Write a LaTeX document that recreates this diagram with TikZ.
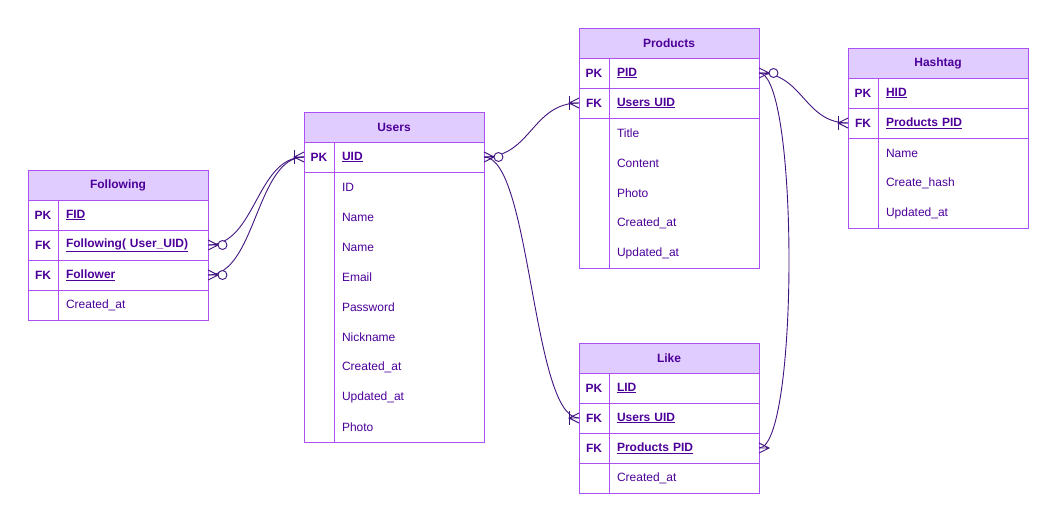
\documentclass[tikz,border=0pt]{standalone}
\usepackage{fontspec}
\setmainfont{Liberation Sans}
\usetikzlibrary{positioning}

\definecolor{erborder}{RGB}{170,80,245}
\definecolor{erhead}{RGB}{225,204,255}
\definecolor{erink}{RGB}{76,0,153}
\definecolor{erline}{RGB}{64,20,128}

\tikzset{
  every node/.style={font=\fontsize{12}{14}\selectfont, text=erink},
  header/.style={draw=erborder, fill=erhead, line width=1pt, outer sep=0pt,
    minimum width=180pt, minimum height=30pt, anchor=north west, font=\fontsize{12}{14}\selectfont\bfseries},
  keycell/.style={draw=erborder, line width=1pt, outer sep=0pt, inner sep=0pt,
    minimum width=30pt, minimum height=30pt, font=\fontsize{12}{14}\selectfont\bfseries},
  fieldcell/.style={draw=erborder, line width=1pt, outer sep=0pt, inner xsep=8pt,
    text width=134pt, align=left, minimum height=30pt},
  plain/.style={draw=none},
  frame/.style={draw=erborder, line width=1pt},
  link/.style={draw=erline, line width=0.9pt},
  crow/.pic={\draw[link] (0,-5) -- (10,0) -- (0,5) (0,0) -- (10,0);},
  zeromany/.pic={\draw[link] (0,-5) -- (10,0) -- (0,5) (0,0) -- (10,0);
    \draw[link, fill=white] (14.5,0) circle (4.5pt);},
  onemany/.pic={\draw[link] (0,-5) -- (10,0) -- (0,5) (0,0) -- (10,0);
    \draw[link] (10,-7) -- (10,7);}
}

% key row: name, row above, key, field
\newcommand{\erow}[4]{%
  \node[keycell, below=0pt of #2k] (#1k) {#3};
  \node[fieldcell, right=0pt of #1k] (#1) {#4};}
% plain row, no lines of its own: name, row above, field
\newcommand{\prow}[3]{%
  \node[keycell, plain, below=0pt of #2k] (#1k) {};
  \node[fieldcell, plain, right=0pt of #1k] (#1) {#3};}

\begin{document}
\begin{tikzpicture}[x=1pt, y=-1pt]
  \useasboundingbox (0,0) rectangle (1058,522);

  % Following
  \node[header] (fh) at (28,170) {Following};
  \node[keycell, anchor=north west] (f1k) at (fh.south west) {PK};
  \node[fieldcell, right=0pt of f1k] (f1) {\textbf{\underline{FID}}};
  \erow{f2}{f1}{FK}{\textbf{\underline{Following( User\_UID)}}}
  \erow{f3}{f2}{FK}{\textbf{\underline{Follower}}}
  \prow{f4}{f3}{Created\_at}
  \draw[frame] (fh.north west) rectangle (f4.south east) (f4k.north east) -- (f4k.south east);

  % Users
  \node[header] (uh) at (304,112) {Users};
  \node[keycell, anchor=north west] (u1k) at (uh.south west) {PK};
  \node[fieldcell, right=0pt of u1k] (u1) {\textbf{\underline{UID}}};
  \prow{u2}{u1}{ID}
  \prow{u3}{u2}{Name}
  \prow{u4}{u3}{Name}
  \prow{u5}{u4}{Email}
  \prow{u6}{u5}{Password}
  \prow{u7}{u6}{Nickname}
  \prow{u8}{u7}{Created\_at}
  \prow{u9}{u8}{Updated\_at}
  \prow{u10}{u9}{Photo}
  \draw[frame] (uh.north west) rectangle (u10.south east) (u2k.north east) -- (u10k.south east);

  % Products
  \node[header] (ph) at (579,28) {Products};
  \node[keycell, anchor=north west] (p1k) at (ph.south west) {PK};
  \node[fieldcell, right=0pt of p1k] (p1) {\textbf{\underline{PID}}};
  \erow{p2}{p1}{FK}{\textbf{\underline{Users UID}}}
  \prow{p3}{p2}{Title}
  \prow{p4}{p3}{Content}
  \prow{p5}{p4}{Photo}
  \prow{p6}{p5}{Created\_at}
  \prow{p7}{p6}{Updated\_at}
  \draw[frame] (ph.north west) rectangle (p7.south east) (p3k.north east) -- (p7k.south east);

  % Hashtag
  \node[header] (hh) at (848,48) {Hashtag};
  \node[keycell, anchor=north west] (h1k) at (hh.south west) {PK};
  \node[fieldcell, right=0pt of h1k] (h1) {\textbf{\underline{HID}}};
  \erow{h2}{h1}{FK}{\textbf{\underline{Products PID}}}
  \prow{h3}{h2}{Name}
  \prow{h4}{h3}{Create\_hash}
  \prow{h5}{h4}{Updated\_at}
  \draw[frame] (hh.north west) rectangle (h5.south east) (h3k.north east) -- (h5k.south east);

  % Like
  \node[header] (lh) at (579,343) {Like};
  \node[keycell, anchor=north west] (l1k) at (lh.south west) {PK};
  \node[fieldcell, right=0pt of l1k] (l1) {\textbf{\underline{LID}}};
  \erow{l2}{l1}{FK}{\textbf{\underline{Users UID}}}
  \erow{l3}{l2}{FK}{\textbf{\underline{Products PID}}}
  \prow{l4}{l3}{Created\_at}
  \draw[frame] (lh.north west) rectangle (l4.south east) (l4k.north east) -- (l4k.south east);

  % relations
  \draw[link] (f2.east) .. controls +(48,0) and +(-48,0) .. (u1k.west);
  \draw[link] (f3.east) .. controls +(48,0) and +(-48,0) .. (u1k.west);
  \draw[link] (u1.east) .. controls +(47,0) and +(-47,0) .. (p2k.west);
  \draw[link] (u1.east) .. controls +(47,0) and +(-47,0) .. (l2k.west);
  \draw[link] (p1.east) .. controls +(44,0) and +(-44,0) .. (h2k.west);
  \draw[link] (p1.east) .. controls +(40,0) and +(40,0) .. (l3.east);

  % cardinality ends
  \pic at (f2.east) {zeromany};
  \pic at (f3.east) {zeromany};
  \pic[xscale=-1] at (u1k.west) {onemany};
  \pic at (u1.east) {zeromany};
  \pic[xscale=-1] at (p2k.west) {onemany};
  \pic[xscale=-1] at (l2k.west) {onemany};
  \pic at (p1.east) {zeromany};
  \pic[xscale=-1] at (h2k.west) {onemany};
  \pic at (l3.east) {crow};
\end{tikzpicture}
\end{document}
